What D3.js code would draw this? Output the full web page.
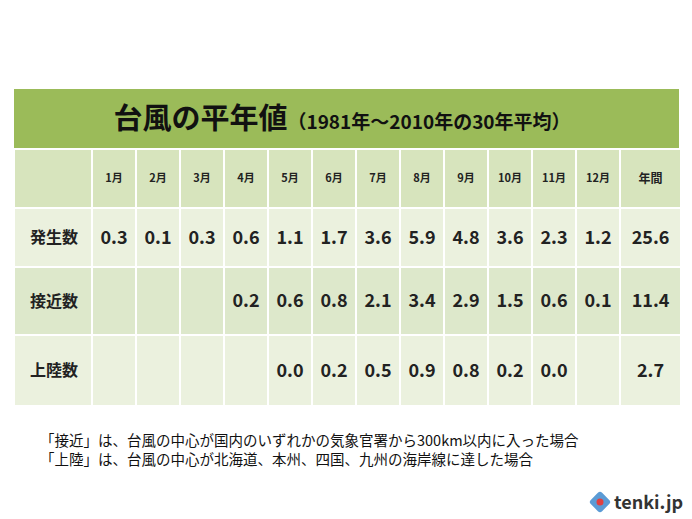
<!DOCTYPE html>
<html><head><meta charset="utf-8">
<script src="https://cdn.jsdelivr.net/npm/d3@7"></script>
<style>body{margin:0;background:#fff}</style>
</head><body>
<script>
// 台風の平年値 table
const months = ["1月","2月","3月","4月","5月","6月","7月","8月","9月","10月","11月","12月","年間"];
const rowLabels = ["発生数","接近数","上陸数"];
const hassei = ["0.3","0.1","0.3","0.6","1.1","1.7","3.6","5.9","4.8","3.6","2.3","1.2","25.6"];
const sekkin = ["","","","0.2","0.6","0.8","2.1","3.4","2.9","1.5","0.6","0.1","11.4"];
const jouriku = ["","","","","0.0","0.2","0.5","0.9","0.8","0.2","0.0","","2.7"];
const rows = [hassei, sekkin, jouriku];
const notes = ["「接近」は、台風の中心が国内のいずれかの気象官署から300km以内に入った場合",
               "「上陸」は、台風の中心が北海道、本州、四国、九州の海岸線に達した場合"];

const W = 692, H = 519;
const font = "'Noto Sans CJK JP', sans-serif";
const svg = d3.select("body").append("svg").attr("width", W).attr("height", H);

const colKeys = ["label"].concat(months);
const colW = d => d === "label" ? 78 : d === "年間" ? 61 : 44;
const colX = {};
let acc = 14;
colKeys.forEach(k => { colX[k] = acc; acc += colW(k); });

// title band
svg.append("rect").attr("x", 14).attr("y", 89).attr("width", 665).attr("height", 59).attr("fill", "#9bbb59");
const t = svg.append("text").attr("x", 342).attr("y", 129).attr("text-anchor", "middle")
  .style("font-family", font).style("font-weight", "bold").attr("fill", "#111");
t.append("tspan").style("font-size", "29px").text("台風の平年値");
t.append("tspan").style("font-size", "19px").text("（1981年～2010年の30年平均）");

// row bands
const rowTop = { head: 150, "発生数": 209, "接近数": 268, "上陸数": 336 };
const rowH = { head: 57, "発生数": 57, "接近数": 66, "上陸数": 69 };
const rowFill = { head: "#d7e4bd", "発生数": "#ebf1de", "接近数": "#dde8cb", "上陸数": "#ebf1de" };

["head"].concat(rowLabels).forEach((r, ri) => {
  colKeys.forEach(k => {
    svg.append("rect").attr("x", colX[k] + 1).attr("y", rowTop[r]).attr("width", colW(k) - 2)
      .attr("height", rowH[r]).attr("fill", rowFill[r]);
    let txt = "", size = 18;
    if (r === "head") { txt = k === "label" ? "" : k; size = k === "年間" ? 12 : 11; }
    else if (k === "label") { txt = r; size = 16; }
    else txt = rows[ri - 1][months.indexOf(k)];
    if (txt) svg.append("text")
      .attr("x", k === "label" ? colX[k] + 16 : colX[k] + colW(k) / 2)
      .attr("y", rowTop[r] + rowH[r] / 2 + size * 0.36)
      .attr("text-anchor", k === "label" ? "start" : "middle")
      .style("font-family", font).style("font-weight", "bold").style("font-size", size + "px")
      .attr("fill", "#222").text(txt);
  });
});

// notes
notes.forEach((n, i) => {
  svg.append("text").attr("x", 40).attr("y", 446 + i * 19).style("font-family", font)
    .style("font-size", "14.5px").attr("fill", "#111").text(n);
});

// logo
const lg = svg.append("g").attr("transform", "translate(600,502)");
lg.append("rect").attr("x", -8).attr("y", -8).attr("width", 16).attr("height", 16).attr("rx", 3)
  .attr("fill", "#5b9bd5").attr("transform", "rotate(45)");
lg.append("circle").attr("r", 3.5).attr("fill", "#e04040");
svg.append("text").attr("x", 614).attr("y", 509).style("font-family", font).style("font-weight", "bold")
  .style("font-size", "18px").attr("fill", "#333").text("tenki.jp");
</script>
</body></html>
